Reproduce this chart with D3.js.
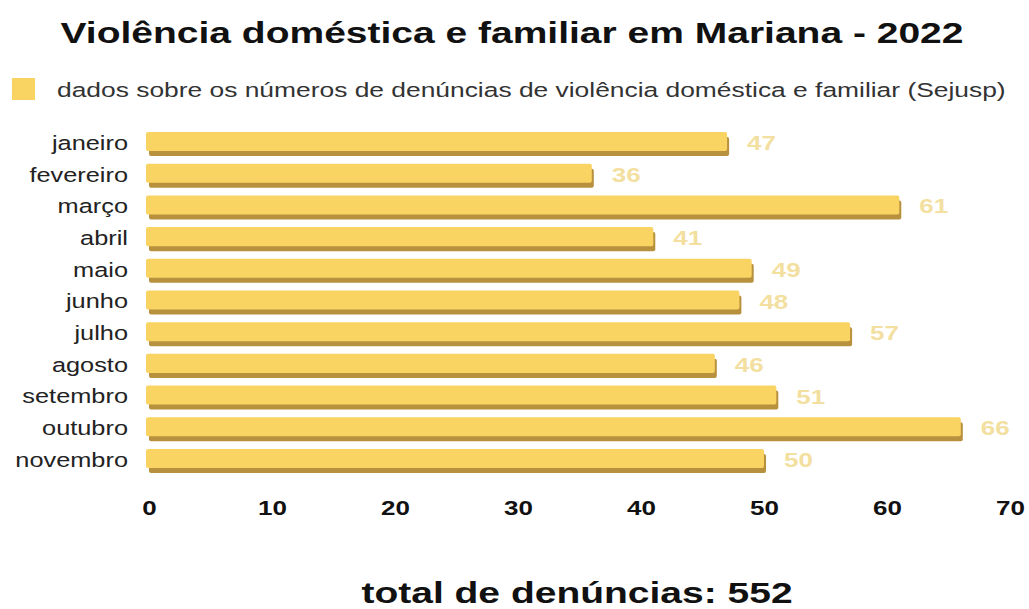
<!DOCTYPE html>
<html>
<head>
<meta charset="utf-8">
<script src="https://cdn.jsdelivr.net/npm/d3@7"></script>
<style>
  body { margin: 0; background: #fff; }
  svg { display: block; font-family: "Liberation Sans", Arial, sans-serif; }
</style>
</head>
<body>
<div id="chart"></div>
<script>
// Monthly complaints of domestic violence, Mariana 2022
const months = ['janeiro', 'fevereiro', 'março', 'abril', 'maio', 'junho',
  'julho', 'agosto', 'setembro', 'outubro', 'novembro'];
const complaints = [47, 36, 61, 41, 49, 48, 57, 46, 51, 66, 50];
const xTicks = [0, 10, 20, 30, 40, 50, 60, 70];
const total = 552;

const width = 1029, height = 609;
const margin = { left: 149, right: 19, top: 132, bottom: 136 };
// the source picture is stretched sideways, so every text is too
const SX = 1.3;

const svg = d3.select('#chart').append('svg')
  .attr('width', width)
  .attr('height', height);

function label(x, y, txt) {
  return svg.append('text')
    .attr('transform', `translate(${x},${y}) scale(${SX},1)`)
    .text(txt);
}

// title
label(512, 43, 'Violência doméstica e familiar em Mariana - 2022')
  .attr('text-anchor', 'middle')
  .style('font-size', '30px')
  .style('font-weight', 'bold')
  .style('fill', '#111');

// legend
svg.append('rect')
  .attr('x', 12).attr('y', 78)
  .attr('width', 23).attr('height', 22)
  .style('fill', '#f9d462');
label(57, 97, 'dados sobre os números de denúncias de violência doméstica e familiar (Sejusp)')
  .style('font-size', '20.3px')
  .style('fill', '#333');

const x = d3.scaleLinear()
  .domain([0, 70])
  .range([margin.left, width - margin.right]);

const y = d3.scaleBand()
  .domain(months)
  .range([margin.top, height - margin.bottom])
  .paddingInner(0.24)
  .paddingOuter(0.0);

const bars = svg.append('g').selectAll('g')
  .data(months.map((m, i) => ({ month: m, value: complaints[i] })))
  .enter().append('g');

const depth = 5;

// darker extrusion under each bar
bars.append('rect')
  .attr('x', x(0))
  .attr('y', d => y(d.month) + depth)
  .attr('width', d => x(d.value) - x(0) + 2)
  .attr('height', y.bandwidth() - depth)
  .attr('rx', 2)
  .style('fill', '#b8913f');

// bar face
bars.append('rect')
  .attr('x', x(0) - 3)
  .attr('y', d => y(d.month))
  .attr('width', d => x(d.value) - x(0) + 3)
  .attr('height', y.bandwidth() - depth)
  .attr('rx', 2)
  .style('fill', '#f9d462');

// value labels
bars.append('text')
  .attr('transform', d => `translate(${x(d.value) + 20},${y(d.month) + y.bandwidth() / 2 + 6}) scale(${SX},1)`)
  .style('font-size', '20px')
  .style('font-weight', 'bold')
  .style('fill', '#f3dfa0')
  .text(d => d.value);

// category labels
const yAxis = svg.append('g')
  .attr('transform', `translate(${margin.left - 21},0)`)
  .call(d3.axisLeft(y).tickSize(0).tickPadding(0));
yAxis.select('.domain').remove();
yAxis.selectAll('text')
  .attr('transform', `scale(${SX},1)`)
  .attr('dy', '0.3em')
  .style('font-size', '19.5px')
  .style('font-family', '"Liberation Sans", Arial, sans-serif')
  .style('fill', '#222');

// x axis tick labels
const xAxis = svg.append('g')
  .attr('transform', `translate(0,${height - 93})`)
  .call(d3.axisBottom(x).tickValues(xTicks).tickSize(0).tickPadding(0));
xAxis.select('.domain').remove();
xAxis.selectAll('text')
  .attr('transform', `scale(${SX},1)`)
  .attr('dy', '-0.05em')
  .style('font-size', '20px')
  .style('font-weight', 'bold')
  .style('font-family', '"Liberation Sans", Arial, sans-serif')
  .style('fill', '#111');

// total
label(577, 603, `total de denúncias: ${total}`)
  .attr('text-anchor', 'middle')
  .style('font-size', '30px')
  .style('font-weight', 'bold')
  .style('fill', '#111');
</script>
</body>
</html>
